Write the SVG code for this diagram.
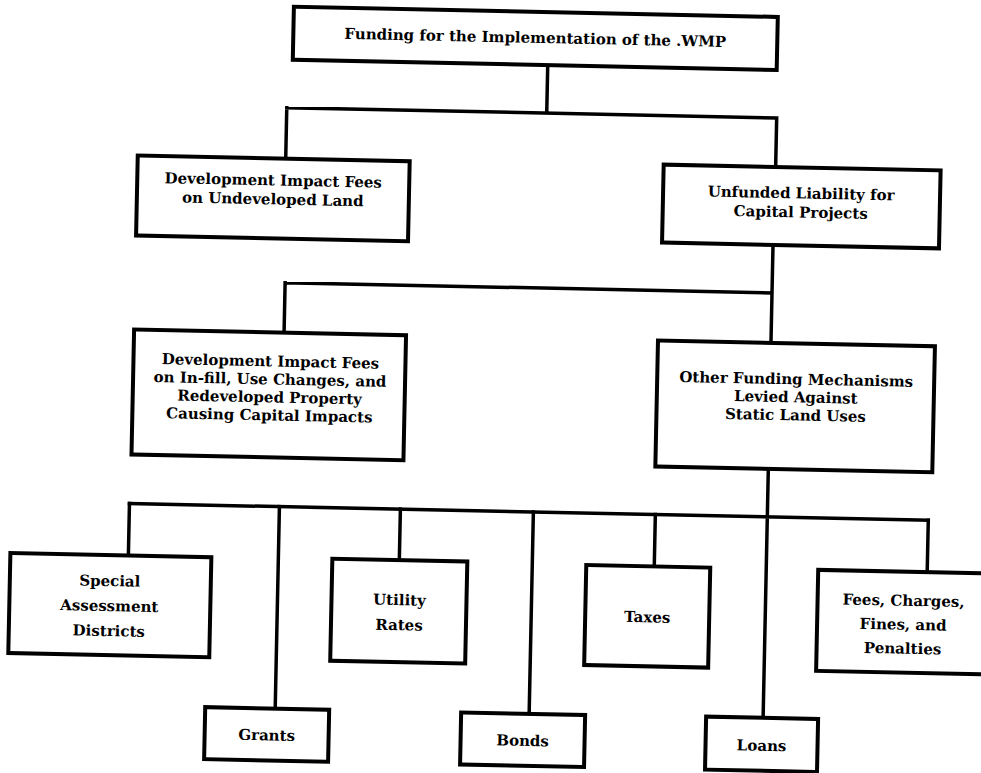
<svg xmlns="http://www.w3.org/2000/svg" width="981" height="773" viewBox="0 0 981 773">
  <style>
    .box { fill: #fff; stroke: #000; stroke-width: 4; }
    .wire { fill: none; stroke: #000; stroke-width: 3.5; stroke-linecap: square; }
    .lbl { font-family: "DejaVu Serif", "Liberation Serif", serif; font-weight: bold; font-size: 15px; fill: #000; text-anchor: middle; }
  </style>
  <rect width="981" height="773" fill="#fff"/>
  <!-- the printed page sits slightly turned -->
  <g transform="rotate(1.2 490 386)">
    <g id="connectors">
      <!-- level 1 to level 2 -->
      <path class="wire" d="M541 64 V112 M281 112 H771 M281 112 V163 M771 112 V161"/>
      <!-- level 2 to level 3 -->
      <path class="wire" d="M770 239 V337 M283 287 H770 M283 287 V337"/>
      <!-- level 3 to the funding sources -->
      <path class="wire" d="M770 463 V712 M132 511 H931"/>
      <path class="wire" d="M132 511 V563 M282 511 V713 M403 511 V562 M536 511 V713 M658 511 V563 M931 511 V563"/>
    </g>

    <g id="funding-swmp">
      <rect class="box" x="286" y="11" width="484" height="53"/>
      <text class="lbl" x="528" y="42">Funding for the Implementation of the .WMP</text>
    </g>

    <g id="impact-fees-undeveloped">
      <rect class="box" x="133" y="163" width="272" height="80"/>
      <text class="lbl" x="269" y="190">Development Impact Fees</text>
      <text class="lbl" x="269" y="209">on Undeveloped Land</text>
    </g>

    <g id="unfunded-liability">
      <rect class="box" x="659" y="161" width="277" height="78"/>
      <text class="lbl" x="797" y="192">Unfunded Liability for</text>
      <text class="lbl" x="797" y="211">Capital Projects</text>
    </g>

    <g id="impact-fees-infill">
      <rect class="box" x="133" y="337" width="272" height="125"/>
      <text class="lbl" x="270" y="371">Development Impact Fees</text>
      <text class="lbl" x="270" y="389">on In-fill, Use Changes, and</text>
      <text class="lbl" x="270" y="407">Redeveloped Property</text>
      <text class="lbl" x="270" y="425">Causing Capital Impacts</text>
    </g>

    <g id="other-mechanisms">
      <rect class="box" x="657" y="337" width="277" height="126"/>
      <text class="lbl" x="796" y="378">Other Funding Mechanisms</text>
      <text class="lbl" x="796" y="396">Levied Against</text>
      <text class="lbl" x="796" y="414">Static Land Uses</text>
    </g>

    <g id="special-assessment">
      <rect class="box" x="14" y="563" width="201" height="100"/>
      <text class="lbl" x="114" y="594">Special</text>
      <text class="lbl" x="114" y="619">Assessment</text>
      <text class="lbl" x="114" y="644">Districts</text>
    </g>

    <g id="grants">
      <rect class="box" x="212" y="713" width="124" height="52"/>
      <text class="lbl" x="274" y="745">Grants</text>
    </g>

    <g id="utility-rates">
      <rect class="box" x="336" y="562" width="135" height="102"/>
      <text class="lbl" x="404" y="607">Utility</text>
      <text class="lbl" x="404" y="632">Rates</text>
    </g>

    <g id="bonds">
      <rect class="box" x="468" y="713" width="124" height="52"/>
      <text class="lbl" x="530" y="745">Bonds</text>
    </g>

    <g id="taxes">
      <rect class="box" x="590" y="563" width="124" height="100"/>
      <text class="lbl" x="652" y="619">Taxes</text>
    </g>

    <g id="loans">
      <rect class="box" x="713" y="712" width="112" height="53"/>
      <text class="lbl" x="769" y="745">Loans</text>
    </g>

    <g id="fees-charges">
      <rect class="box" x="822" y="563" width="180" height="101"/>
      <text class="lbl" x="908" y="597">Fees, Charges,</text>
      <text class="lbl" x="908" y="621">Fines, and</text>
      <text class="lbl" x="908" y="645">Penalties</text>
    </g>
  </g>
</svg>
